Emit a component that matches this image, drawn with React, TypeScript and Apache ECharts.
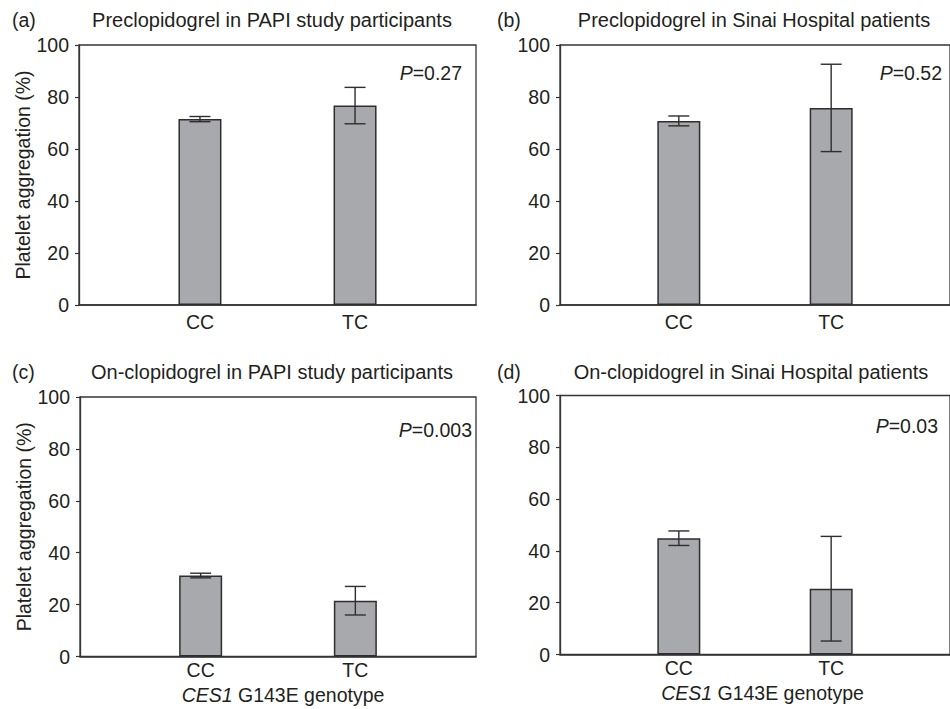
import React, { useEffect, useRef } from "react";
import * as echarts from "echarts";

// ---- data ----
const categories = ["CC", "TC"];
const categoryPositions = [0, 1];

const meansA = [71.5, 76.7];
const errorsA = [1.0, 7.0];
const meansB = [70.8, 75.8];
const errorsB = [1.9, 16.8];
const meansC = [31.2, 21.5];
const errorsC = [0.9, 5.5];
const meansD = [44.9, 25.4];
const errorsD = [2.8, 20.2];

const yMin = 0;
const yMax = 100;
const yStep = 20;

const panelLabels = ["(a)", "(b)", "(c)", "(d)"];
const panelTitles = [
  "Preclopidogrel in PAPI study participants",
  "Preclopidogrel in Sinai Hospital patients",
  "On-clopidogrel in PAPI study participants",
  "On-clopidogrel in Sinai Hospital patients",
];
const pValues = ["0.27", "0.52", "0.003", "0.03"];
const yAxisName = "Platelet aggregation (%)";
const xAxisGene = "CES1";
const xAxisRest = " G143E genotype";

const panelMeans = [meansA, meansB, meansC, meansD];
const panelErrors = [errorsA, errorsB, errorsC, errorsD];

// ---- layout ----
const TEXT = "#231f20";
const LINE = "#353535";
const FONT = "'Liberation Sans', Arial, Helvetica, sans-serif";
const FS = 19.5;
const TFS = 20;

const panels = [
  { left: 79, top: 45, width: 397, height: 260, yName: true, xName: false, labelMargin: 7, labelX: 12, labelY: 20, titleX: 272, pX: 462, pY: 73 },
  { left: 560, top: 45, width: 397, height: 260, yName: false, xName: false, labelMargin: 7, labelX: 497, labelY: 20, titleX: 754, pX: 942, pY: 73 },
  { left: 80, top: 397, width: 396, height: 259.5, yName: true, xName: true, labelMargin: 3, labelX: 12, labelY: 372, titleX: 272, pX: 472, pY: 430 },
  { left: 560, top: 395.5, width: 397, height: 259, yName: false, xName: true, labelMargin: 3, labelX: 497, labelY: 372, titleX: 751, pX: 938, pY: 426 },
];

export default function App() {
  const ref = useRef<HTMLDivElement>(null);

  useEffect(() => {
    if (!ref.current) return;
    const chart = echarts.init(ref.current, undefined, { renderer: "svg" });

    const grid: any[] = [];
    const xAxis: any[] = [];
    const yAxis: any[] = [];
    const series: any[] = [];
    const graphic: any[] = [];

    panels.forEach((p, i) => {
      grid.push({
        left: p.left,
        top: p.top,
        width: p.width,
        height: p.height,
        show: true,
        borderColor: LINE,
        borderWidth: 1.3,
        backgroundColor: "transparent",
        containLabel: false,
      });
      xAxis.push({
        type: "value",
        gridIndex: i,
        min: -0.78,
        max: 1.78,
        axisLine: { show: true, onZero: false, lineStyle: { color: LINE, width: 1.6 } },
        axisTick: { show: false },
        splitLine: { show: false },
        axisLabel: {
          customValues: categoryPositions,
          margin: p.labelMargin,
          color: TEXT,
          fontSize: FS,
          fontFamily: FONT,
          formatter: (v: number) => {
            const k = categoryPositions.findIndex((c) => Math.abs(c - v) < 1e-6);
            return k >= 0 ? categories[k] : "";
          },
        },
        name: p.xName ? `{i|${xAxisGene}}${xAxisRest}` : "",
        nameLocation: "middle",
        nameGap: 28,
        nameTextStyle: {
          color: TEXT,
          fontSize: FS,
          fontFamily: FONT,
          padding: i === 3 ? [0, 0, 0, 15] : [0, 0, 0, 10],
          rich: { i: { fontStyle: "italic", fontSize: FS, fontFamily: FONT, color: TEXT } },
        },
      });
      yAxis.push({
        type: "value",
        gridIndex: i,
        min: yMin,
        max: yMax,
        interval: yStep,
        axisLine: { show: true, onZero: false, lineStyle: { color: LINE, width: 1.3 } },
        axisTick: { show: true, length: 4, lineStyle: { color: LINE, width: 1.2 } },
        splitLine: { show: false },
        axisLabel: { margin: 10, color: TEXT, fontSize: FS, fontFamily: FONT },
        name: p.yName ? yAxisName : "",
        nameLocation: "middle",
        nameGap: 45,
        nameTextStyle: { color: TEXT, fontSize: FS, fontFamily: FONT },
      });

      const means = panelMeans[i];
      const errs = panelErrors[i];
      series.push({
        type: "bar",
        xAxisIndex: i,
        yAxisIndex: i,
        barWidth: 43,
        data: categoryPositions.map((x, k) => [x, means[k]]),
        itemStyle: { color: "#a8a9ac", borderColor: "#2e2e2e", borderWidth: 1.5 },
        z: 2,
      });
      series.push({
        type: "custom",
        xAxisIndex: i,
        yAxisIndex: i,
        z: 3,
        data: categoryPositions.map((x, k) => [x, means[k] - errs[k], means[k] + errs[k]]),
        encode: { x: 0, y: [1, 2] },
        renderItem: (_params: any, api: any) => {
          const x = api.value(0);
          const lo = api.coord([x, api.value(1)]);
          const hi = api.coord([x, api.value(2)]);
          const hw = 10.5;
          const style = { stroke: "#2e2e2e", lineWidth: 1.4 };
          return {
            type: "group",
            children: [
              { type: "line", shape: { x1: hi[0], y1: hi[1], x2: lo[0], y2: lo[1] }, style },
              { type: "line", shape: { x1: hi[0] - hw, y1: hi[1], x2: hi[0] + hw, y2: hi[1] }, style },
              { type: "line", shape: { x1: lo[0] - hw, y1: lo[1], x2: lo[0] + hw, y2: lo[1] }, style },
            ],
          };
        },
      });

      graphic.push({
        type: "text",
        x: p.labelX,
        y: p.labelY,
        style: { text: panelLabels[i], fill: TEXT, font: `${FS}px ${FONT}`, align: "left", verticalAlign: "middle" },
      });
      graphic.push({
        type: "text",
        x: p.titleX,
        y: p.labelY,
        style: { text: panelTitles[i], fill: TEXT, font: `${TFS}px ${FONT}`, align: "center", verticalAlign: "middle" },
      });
      graphic.push({
        type: "text",
        x: p.pX,
        y: p.pY,
        style: {
          text: `{i|P}=${pValues[i]}`,
          fill: TEXT,
          fontSize: FS,
          fontFamily: FONT,
          align: "right",
          verticalAlign: "middle",
          rich: { i: { fontStyle: "italic", fontSize: FS, fontFamily: FONT, fill: TEXT } },
        },
      });
    });

    chart.setOption({
      animation: false,
      backgroundColor: "#ffffff",
      textStyle: { fontFamily: FONT, color: TEXT },
      grid,
      xAxis,
      yAxis,
      series,
      graphic,
    });

    return () => chart.dispose();
  }, []);

  return (
    <div
      ref={ref}
      style={{ position: "absolute", left: 0, top: 0, width: 950, height: 709, background: "#fff" }}
    />
  );
}
